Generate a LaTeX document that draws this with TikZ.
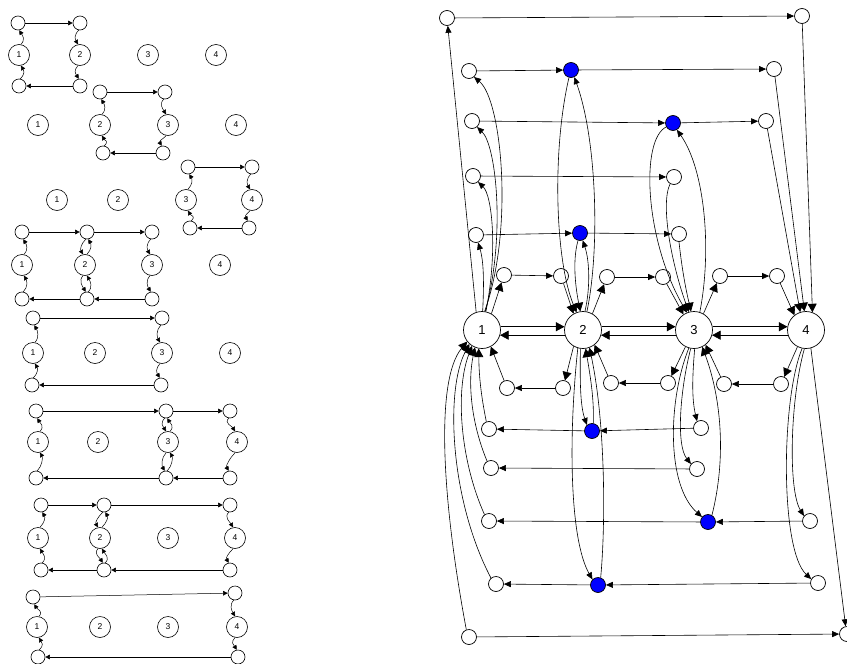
\documentclass[tikz,border=0pt]{standalone}
\usepackage{fontspec}
\setmainfont{Liberation Sans}
\usetikzlibrary{arrows.meta}
\tikzset{
  lab/.style={circle,draw,line width=0.6pt,minimum size=21pt,inner sep=0pt,font=\fontsize{8.5}{8.5}\selectfont},
  smn/.style={circle,draw,line width=0.6pt,minimum size=14pt,inner sep=0pt},
  la/.style={-{Triangle[length=4.5pt,width=4.5pt]},line width=0.5pt},
  mainnode/.style={circle,draw,line width=0.7pt,minimum size=37pt,inner sep=0pt,font=\fontsize{13}{13}\selectfont},
  smallnode/.style={circle,draw,line width=0.7pt,minimum size=15pt,inner sep=0pt,fill=white},
  bluenode/.style={smallnode,fill=blue},
  ra/.style={-{Triangle[length=7pt,width=6pt]},line width=0.6pt},
  rb/.style={-{Triangle[length=8.5pt,width=9pt]},line width=0.6pt},
}
\newcommand\cUR[2]{\draw[la] (#1.80) .. controls +(5,-5) and +(3,5) .. (#2.-80);}
\newcommand\cDL[2]{\draw[la] (#1.-100) .. controls +(-5,5) and +(-3,-5) .. (#2.100);}
\begin{document}
\begin{tikzpicture}[x=1pt,y=-1pt]
\useasboundingbox (0,0) rectangle (847,664);
% ---------------- left column ----------------
% panel 1
\node[lab] (p1n1) at (19,55) {1};
\node[lab] (p1n2) at (80,55) {2};
\node[lab] (p1n3) at (148,55) {3};
\node[lab] (p1n4) at (216,55) {4};
\node[smn] (p1a) at (18,23) {};
\node[smn] (p1b) at (80,23) {};
\node[smn] (p1c) at (19,86) {};
\node[smn] (p1d) at (80,86) {};
\cUR{p1n1}{p1a} \draw[la] (p1a) -- (p1b); \cDL{p1b}{p1n2} \cDL{p1n2}{p1d} \draw[la] (p1d) -- (p1c); \cUR{p1c}{p1n1}
% panel 2
\node[lab] (p2n1) at (38,125) {1};
\node[lab] (p2n2) at (100,125) {2};
\node[lab] (p2n3) at (168,125) {3};
\node[lab] (p2n4) at (236,125) {4};
\node[smn] (p2a) at (100,92) {};
\node[smn] (p2b) at (165,92) {};
\node[smn] (p2c) at (103,153) {};
\node[smn] (p2d) at (163,153) {};
\cUR{p2n2}{p2a} \draw[la] (p2a) -- (p2b); \cDL{p2b}{p2n3} \cDL{p2n3}{p2d} \draw[la] (p2d) -- (p2c); \cUR{p2c}{p2n2}
% panel 3
\node[lab] (p3n1) at (57,200) {1};
\node[lab] (p3n2) at (118,200) {2};
\node[lab] (p3n3) at (186,200) {3};
\node[lab] (p3n4) at (252,200) {4};
\node[smn] (p3a) at (188,167) {};
\node[smn] (p3b) at (252,167) {};
\node[smn] (p3c) at (190,228) {};
\node[smn] (p3d) at (249,228) {};
\cUR{p3n3}{p3a} \draw[la] (p3a) -- (p3b); \cDL{p3b}{p3n4} \cDL{p3n4}{p3d} \draw[la] (p3d) -- (p3c); \cUR{p3c}{p3n3}
% panel 4
\node[lab] (p4n1) at (22,265) {1};
\node[lab] (p4n2) at (85,265) {2};
\node[lab] (p4n3) at (152,265) {3};
\node[lab] (p4n4) at (220,265) {4};
\node[smn] (p4a) at (22,232) {};
\node[smn] (p4b) at (87,232) {};
\node[smn] (p4c) at (152,232) {};
\node[smn] (p4d) at (22,299) {};
\node[smn] (p4e) at (87,299) {};
\node[smn] (p4f) at (152,299) {};
\cUR{p4n1}{p4a} \draw[la] (p4a) -- (p4b); \cDL{p4b}{p4n2} \cUR{p4n2}{p4b} \draw[la] (p4b) -- (p4c);
\cDL{p4c}{p4n3} \cDL{p4n3}{p4f} \draw[la] (p4f) -- (p4e); \cDL{p4n2}{p4e} \cUR{p4e}{p4n2} \draw[la] (p4e) -- (p4d); \cUR{p4d}{p4n1}
% panel 5
\node[lab] (p5n1) at (33,353) {1};
\node[lab] (p5n2) at (95,353) {2};
\node[lab] (p5n3) at (162,353) {3};
\node[lab] (p5n4) at (230,353) {4};
\node[smn] (p5a) at (33,318) {};
\node[smn] (p5b) at (162,318) {};
\node[smn] (p5c) at (32,385) {};
\node[smn] (p5d) at (161,385) {};
\cUR{p5n1}{p5a} \draw[la] (p5a) -- (p5b); \cDL{p5b}{p5n3} \cDL{p5n3}{p5d} \draw[la] (p5d) -- (p5c); \cUR{p5c}{p5n1}
% panel 6
\node[lab] (p6n1) at (38,442) {1};
\node[lab] (p6n2) at (98,442) {2};
\node[lab] (p6n3) at (168,442) {3};
\node[lab] (p6n4) at (237,442) {4};
\node[smn] (p6a) at (36,411) {};
\node[smn] (p6b) at (166,411) {};
\node[smn] (p6c) at (230,411) {};
\node[smn] (p6d) at (36,478) {};
\node[smn] (p6e) at (166,478) {};
\node[smn] (p6f) at (230,478) {};
\cUR{p6n1}{p6a} \draw[la] (p6a) -- (p6b); \cDL{p6b}{p6n3} \cUR{p6n3}{p6b} \draw[la] (p6b) -- (p6c);
\cDL{p6c}{p6n4} \cDL{p6n4}{p6f} \draw[la] (p6f) -- (p6e); \cDL{p6n3}{p6e} \cUR{p6e}{p6n3} \draw[la] (p6e) -- (p6d); \cUR{p6d}{p6n1}
% panel 7
\node[lab] (p7n1) at (38,538) {1};
\node[lab] (p7n2) at (100,538) {2};
\node[lab] (p7n3) at (168,538) {3};
\node[lab] (p7n4) at (235,538) {4};
\node[smn] (p7a) at (41,505) {};
\node[smn] (p7b) at (104,505) {};
\node[smn] (p7c) at (230,505) {};
\node[smn] (p7d) at (41,570) {};
\node[smn] (p7e) at (104,570) {};
\node[smn] (p7f) at (230,570) {};
\cUR{p7n1}{p7a} \draw[la] (p7a) -- (p7b); \cDL{p7b}{p7n2} \cUR{p7n2}{p7b} \draw[la] (p7b) -- (p7c);
\cDL{p7c}{p7n4} \cDL{p7n4}{p7f} \draw[la] (p7f) -- (p7e); \cDL{p7n2}{p7e} \cUR{p7e}{p7n2} \draw[la] (p7e) -- (p7d); \cUR{p7d}{p7n1}
% panel 8
\node[lab] (p8n1) at (37,627) {1};
\node[lab] (p8n2) at (100,627) {2};
\node[lab] (p8n3) at (168,627) {3};
\node[lab] (p8n4) at (237,627) {4};
\node[smn] (p8a) at (33,597) {};
\node[smn] (p8b) at (235,593) {};
\node[smn] (p8c) at (38,657) {};
\node[smn] (p8d) at (238,657) {};
\cUR{p8n1}{p8a} \draw[la] (p8a) -- (p8b); \cDL{p8b}{p8n4} \cDL{p8n4}{p8d} \draw[la] (p8d) -- (p8c); \cUR{p8c}{p8n1}
% ---------------- right diagram ----------------
\node[mainnode] (N1) at (482,330) {1};
\node[mainnode] (N2) at (583,330) {2};
\node[mainnode] (N3) at (694,330) {3};
\node[mainnode] (N4) at (806,330) {4};
\node[smallnode] (A0) at (447,18) {};
\node[smallnode] (B0) at (802,16) {};
\node[smallnode] (ta) at (469,71) {};
\node[bluenode] (P) at (571,70) {};
\node[smallnode] (tc) at (774,69) {};
\node[smallnode] (td) at (472,121) {};
\node[bluenode] (Q) at (673,123) {};
\node[smallnode] (te) at (766,121) {};
\node[smallnode] (tf) at (473,176) {};
\node[smallnode] (tg) at (674,177) {};
\node[smallnode] (th) at (476,235) {};
\node[bluenode] (R) at (580,233) {};
\node[smallnode] (ti) at (679,234) {};
\node[smallnode] (tj) at (504,275) {};
\node[smallnode] (tk) at (561,276) {};
\node[smallnode] (tl) at (607,277) {};
\node[smallnode] (tm) at (663,277) {};
\node[smallnode] (tn) at (720,276) {};
\node[smallnode] (to) at (777,276) {};
\node[smallnode] (bp) at (507,388) {};
\node[smallnode] (bq) at (563,388) {};
\node[smallnode] (br) at (611,383) {};
\node[smallnode] (bs) at (668,383) {};
\node[smallnode] (bt) at (724,384) {};
\node[smallnode] (bu) at (781,384) {};
\node[smallnode] (bv) at (489,429) {};
\node[bluenode] (S) at (592,431) {};
\node[smallnode] (bw) at (701,428) {};
\node[smallnode] (bx) at (491,468) {};
\node[smallnode] (by) at (697,469) {};
\node[smallnode] (bz) at (489,521) {};
\node[bluenode] (T) at (708,522) {};
\node[smallnode] (baa) at (810,521) {};
\node[smallnode] (bbb) at (496,584) {};
\node[bluenode] (U) at (598,585) {};
\node[smallnode] (bcc) at (818,583) {};
\node[smallnode] (bdd) at (469,637) {};
\node[smallnode] (bee) at (847,634) {};
% horizontal
\draw[ra] (A0) -- (B0);
\draw[ra] (ta) -- (P); \draw[ra] (P) -- (tc);
\draw[ra] (td) -- (Q); \draw[ra] (Q) -- (te);
\draw[ra] (tf) -- (tg);
\draw[ra] (th) -- (R); \draw[ra] (R) -- (ti);
\draw[ra] (tj) -- (tk); \draw[ra] (tl) -- (tm); \draw[ra] (tn) -- (to);
\draw[ra] (bq) -- (bp); \draw[ra] (bs) -- (br); \draw[ra] (bu) -- (bt);
\draw[ra] (S) -- (bv); \draw[ra] (bw) -- (S);
\draw[ra] (by) -- (bx);
\draw[ra] (T) -- (bz); \draw[ra] (baa) -- (T);
\draw[ra] (U) -- (bbb); \draw[ra] (bcc) -- (U);
\draw[ra] (bdd) -- (bee);
% main
\draw[rb] (N1.10) -- (N2.170); \draw[rb] (N2.-164) -- (N1.-16);
\draw[rb] (N2.10) -- (N3.170); \draw[rb] (N3.-164) -- (N2.-16);
\draw[rb] (N3.10) -- (N4.170); \draw[rb] (N4.-164) -- (N3.-16);
% from 1 upward
\draw[ra] (N1.108) -- (A0);
\draw[ra] (N1.82) .. controls (514,230) and (502,100) .. (ta.-50);
\draw[ra] (N1.80) .. controls (506,235) and (496,145) .. (td.-50);
\draw[ra] (N1.78) .. controls (498,250) and (492,195) .. (tf.-50);
\draw[ra] (N1.88) .. controls (484,285) and (484,262) .. (th.-75);
\draw[rb] (N1.60) -- (tj);
% into 2 from above
\draw[rb] (tk) -- (N2.120);
\draw[rb] (P.-105) .. controls (552,150) and (555,260) .. (N2.110);
\draw[ra] (N2.78) .. controls (600,250) and (597,140) .. (P.-65);
\draw[rb] (R.-105) .. controls (572,262) and (576,290) .. (N2.98);
\draw[ra] (N2.84) .. controls (590,290) and (590,262) .. (R.-70);
\draw[rb] (N2.60) -- (tl);
% into 3 from above
\draw[rb] (Q.-150) .. controls (640,140) and (645,240) .. (N3.112);
\draw[ra] (N3.72) .. controls (712,250) and (705,170) .. (Q.-60);
\draw[rb] (tg.-120) .. controls (660,205) and (672,265) .. (N3.106);
\draw[rb] (ti.-90) .. controls (682,270) and (686,290) .. (N3.99);
\draw[rb] (tm) -- (N3.124);
\draw[rb] (N3.60) -- (tn);
% into 4 from above
\draw[rb] (B0) -- (N4.70);
\draw[rb] (tc) -- (N4.95);
\draw[rb] (te) -- (N4.108);
\draw[rb] (to) -- (N4.128);
% below
\draw[rb] (N2.-120) -- (bq);
\draw[rb] (bp) -- (N1.-62);
\draw[rb] (br) -- (N2.-52);
\draw[rb] (N3.-117) -- (bs);
\draw[rb] (bt) -- (N3.-52);
\draw[rb] (N4.-117) -- (bu);
\draw[ra] (N2.-98) .. controls (580,380) and (580,405) .. (S.130);
\draw[rb] (S.80) .. controls (594,400) and (591,380) .. (N2.-82);
\draw[ra] (N2.-106) .. controls (568,440) and (570,540) .. (U.135);
\draw[rb] (U.70) .. controls (606,520) and (605,420) .. (N2.-70);
\draw[ra] (N3.-88) .. controls (692,380) and (692,400) .. (bw.120);
\draw[ra] (N3.-100) .. controls (680,390) and (676,445) .. (by.140);
\draw[ra] (N3.-106) .. controls (668,400) and (666,485) .. (T.140);
\draw[rb] (T.60) .. controls (726,460) and (722,400) .. (N3.-64);
\draw[ra] (N4.-95) .. controls (790,400) and (788,490) .. (baa.140);
\draw[ra] (N4.-102) .. controls (781,400) and (780,550) .. (bcc.150);
\draw[ra] (N4.-75) -- (bee.100);
% into 1 from below
\draw[rb] (bv.110) .. controls (482,400) and (479,380) .. (N1.-100);
\draw[rb] (bx.120) .. controls (470,420) and (468,380) .. (N1.-112);
\draw[rb] (bz.125) .. controls (460,460) and (455,390) .. (N1.-122);
\draw[rb] (bbb.130) .. controls (450,500) and (445,390) .. (N1.-132);
\draw[rb] (bdd.110) .. controls (442,500) and (435,380) .. (N1.-142);
\end{tikzpicture}
\end{document}
